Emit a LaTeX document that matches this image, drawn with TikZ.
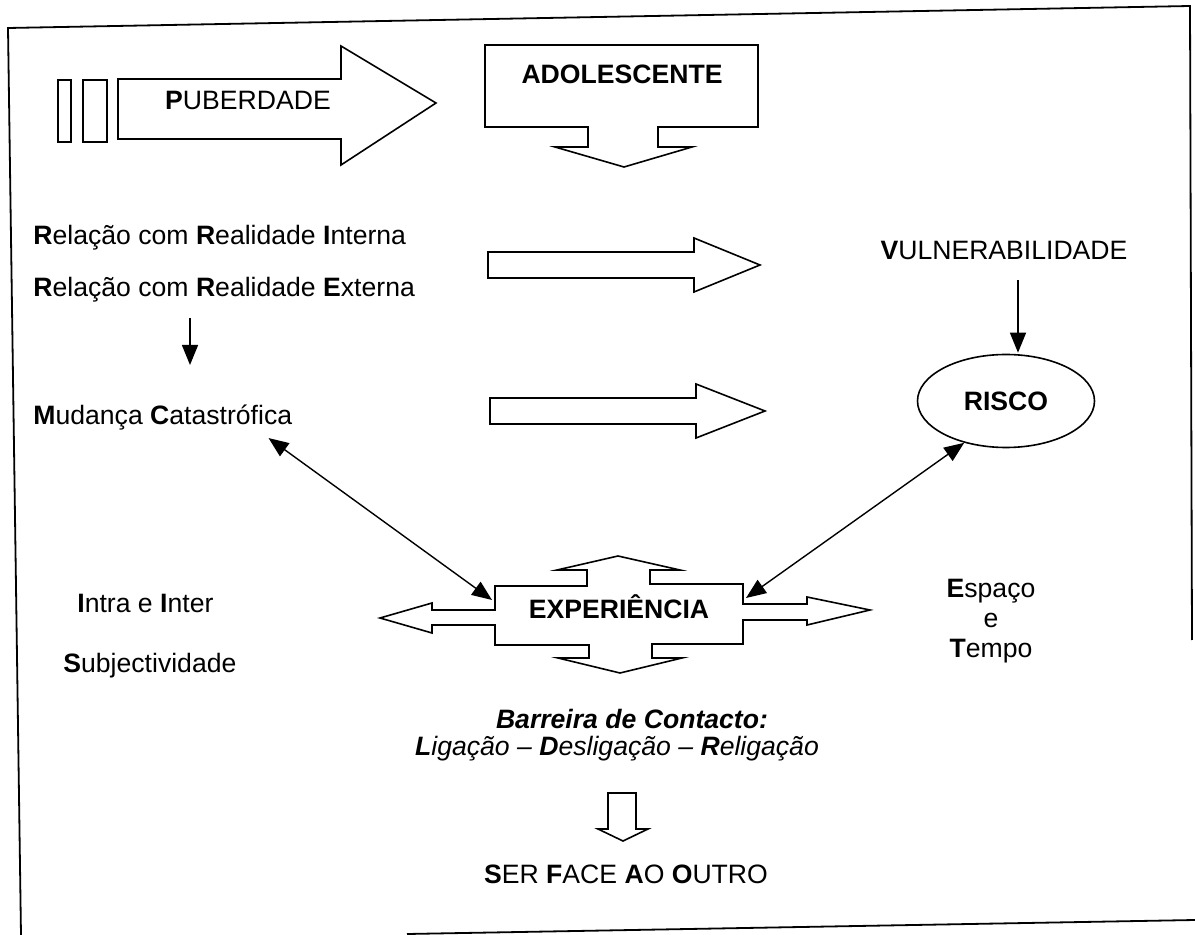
\documentclass[tikz,border=0pt]{standalone}
\usepackage{fontspec}
\setmainfont{Liberation Sans}
\usetikzlibrary{arrows.meta,shapes.geometric}

\begin{document}
\begin{tikzpicture}[x=0.5pt,y=-0.5pt]
		\tikzstyle {block} = [draw, line width=0.8pt, fill=white]
		\tikzstyle {txt} = [inner sep=0pt, font=\fontsize{13.3}{15}\selectfont]
		\tikzstyle {link} = [line width=0.7pt, -{Triangle[length=10pt,width=8pt]}]
		\tikzstyle {twolink} = [line width=0.7pt, {Triangle[length=10pt,width=8pt]}-{Triangle[length=10pt,width=8pt]}]

		\useasboundingbox (0,0) rectangle (1195,935);

		% frame
		\draw[line width=0.9pt] (21,935) -- (8,28) -- (1190,6) -- (1192,640);
		\draw[line width=0.9pt] (407,934) -- (1195,920);

		% puberdade
		\draw[block] (58,80) rectangle (71,142);
		\draw[block] (83,80) rectangle (107,142);
		\draw[block] (118,79) -- (341,79) -- (341,46) -- (436,103) -- (341,165) -- (341,139) -- (118,139) -- cycle;
		\node[txt] (pub) at (248,100) {\textbf{P}UBERDADE};

		% adolescente
		\draw[block] (485,45) -- (758,45) -- (758,127) -- (658,127) -- (658,147) -- (692,147) -- (624,167)
			-- (555,147) -- (588,147) -- (588,127) -- (485,127) -- cycle;
		\node[txt] (adol) at (622,74) {\textbf{ADOLESCENTE}};

		\node[txt, anchor=base west] (relint) at (33,245) {\textbf{R}elação com \textbf{R}ealidade \textbf{I}nterna};
		\node[txt, anchor=base west] (relext) at (33,297) {\textbf{R}elação com \textbf{R}ealidade \textbf{E}xterna};
		\node[txt, anchor=base west] (mud) at (33,425) {\textbf{M}udança \textbf{C}atastrófica};
		\draw[link] ([shift={(157,21)}]relext.base west) -- ([shift={(157,-60)}]mud.base west);

		\draw[block] (488,252) -- (694,252) -- (694,238) -- (760,265) -- (694,292) -- (694,278) -- (488,278) -- cycle;
		\draw[block] (490,398) -- (696,398) -- (696,384) -- (765,411) -- (696,438) -- (696,424) -- (490,424) -- cycle;

		% vulnerabilidade / risco
		\node[txt] (vuln) at (1004,250) {\textbf{V}ULNERABILIDADE};
		\node[draw, ellipse, line width=0.8pt, minimum width=88.5pt, minimum height=46.5pt, txt] (risco) at (1006,401) {\textbf{RISCO}};
		\draw[link] ([shift={(14,30)}]vuln.center) -- ([shift={(12,-1)}]risco.north);

		% experiencia
		\draw[block] (495,586) -- (587,586) -- (587,570) -- (557,570) -- (618,556) -- (680,570) -- (650,570) -- (650,584)
			-- (743,584) -- (743,604) -- (807,604) -- (807,597) -- (870,610) -- (807,625) -- (807,620) -- (743,620)
			-- (743,644) -- (652,644) -- (652,658) -- (682,658) -- (620,673) -- (558,658) -- (589,658) -- (589,645)
			-- (495,645) -- (495,625) -- (432,625) -- (432,633) -- (380,618) -- (432,603) -- (432,610) -- (495,610) -- cycle;
		\node[txt] (exp) at (619,607) {\textbf{EXPERIÊNCIA}};
		\coordinate (expw) at (492,600);
		\coordinate (expe) at (746,598);

		\draw[twolink] ([shift={(-24,7)}]mud.south east) -- (expw);
		\draw[twolink] (expe) -- (risco.225);

		\node[txt, anchor=base west] (intra) at (77,613) {\textbf{I}ntra e \textbf{I}nter};
		\node[txt, anchor=base west] (subj) at (63,673) {\textbf{S}ubjectividade};
		\node[txt, align=center] (espaco) at (991,621) {\textbf{E}spaço\\e\\\textbf{T}empo};

		% barreira
		\node[txt, anchor=base] (barr) at (632,728) {\textbf{\textit{Barreira de Contacto:}}};
		\node[txt, anchor=base] (lig) at (617,755) {\textit{\textbf{L}igação – \textbf{D}esligação – \textbf{R}eligação}};
		\draw[block] (608,793) -- (636,793) -- (636,829) -- (648,829) -- (623,841) -- (598,829) -- (608,829) -- cycle;
		\node[txt, anchor=base] (ser) at (626,883) {\textbf{S}ER \textbf{F}ACE \textbf{A}O \textbf{O}UTRO};

\end{tikzpicture}
\end{document}
